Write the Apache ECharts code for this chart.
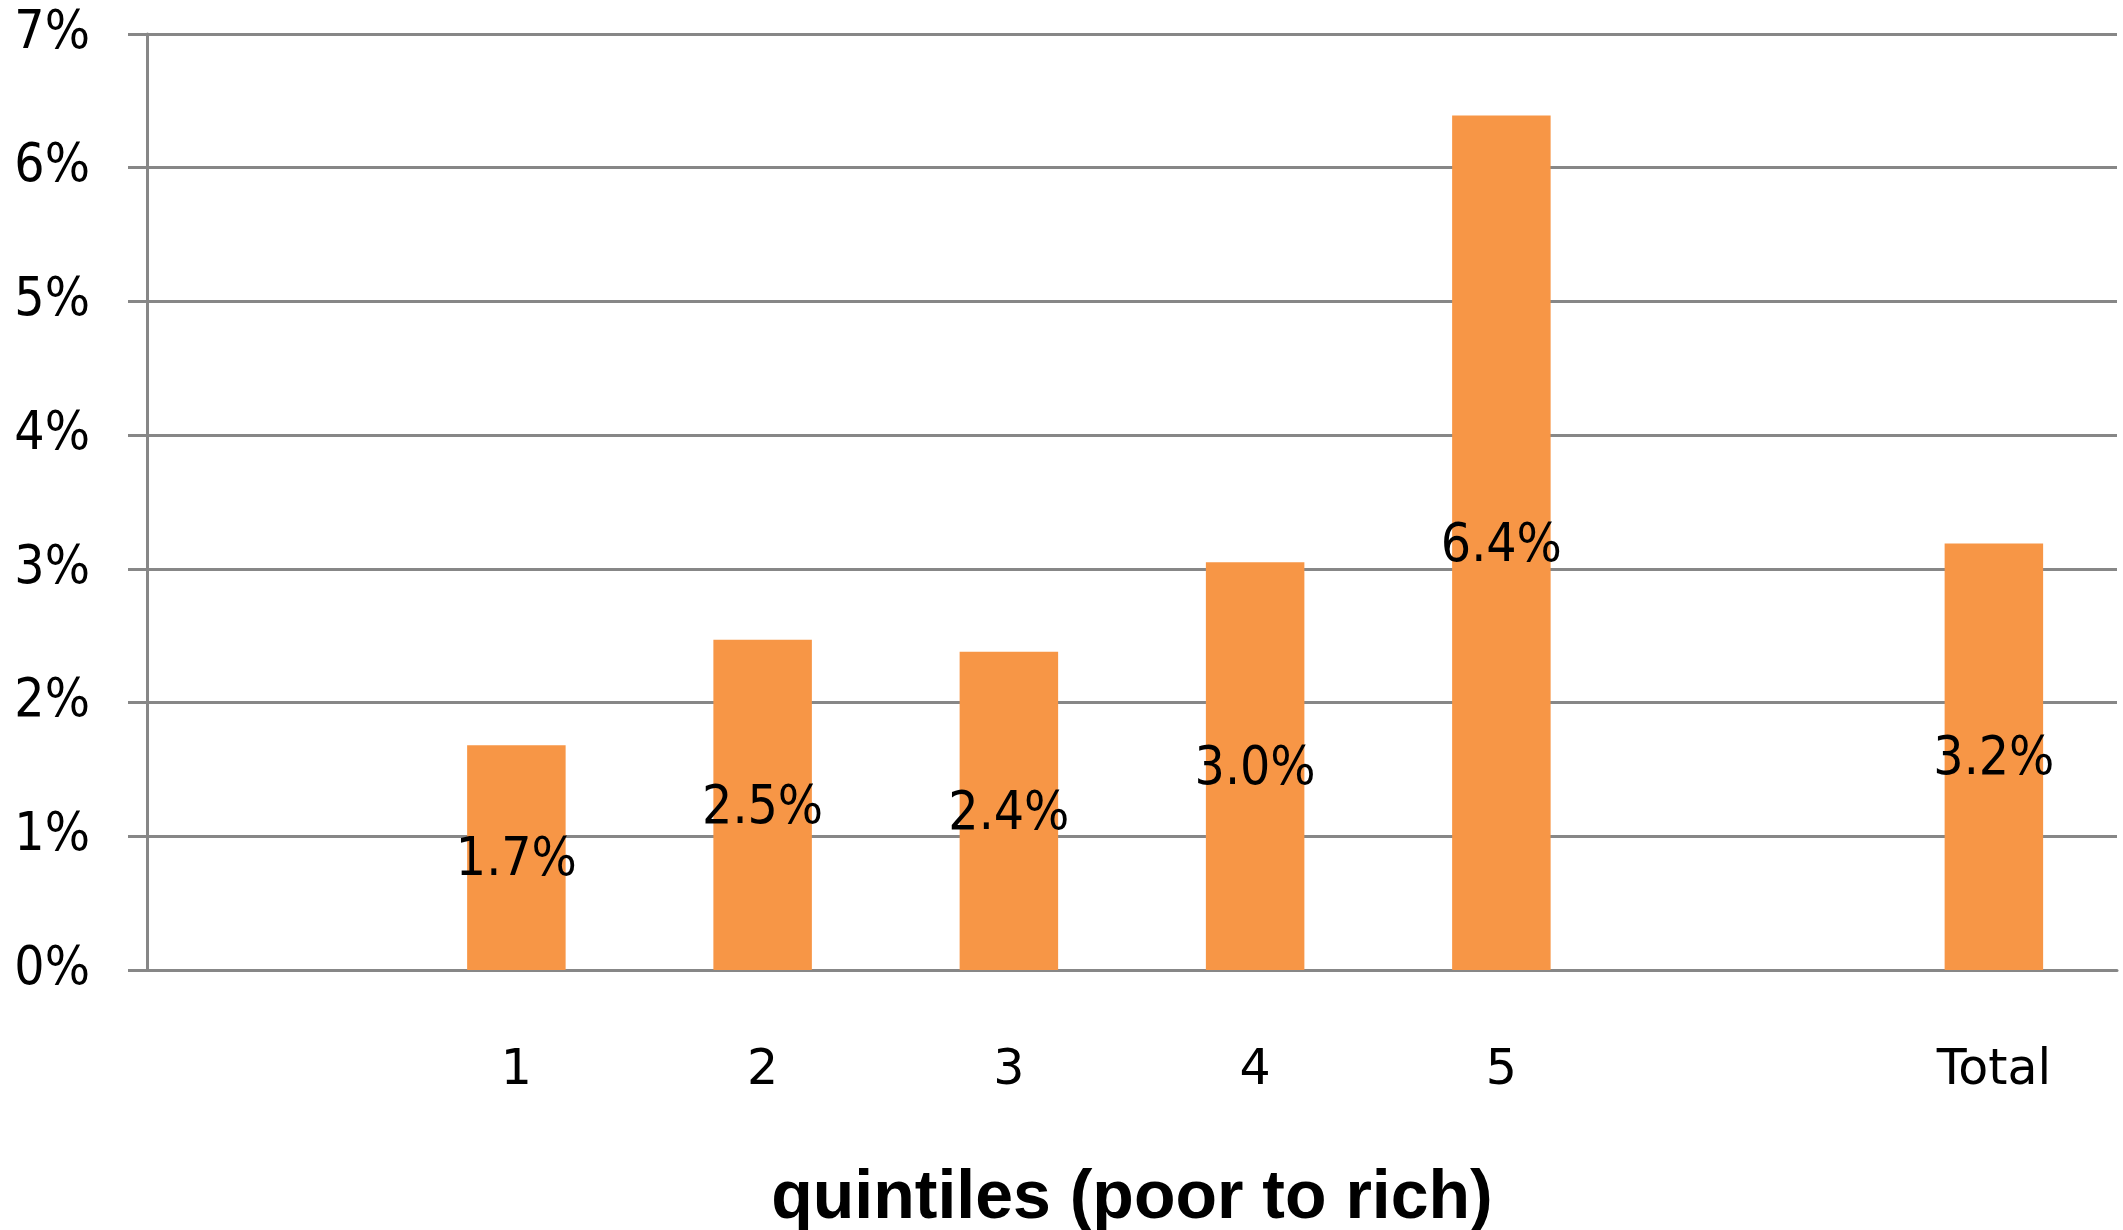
<!DOCTYPE html>
<html>
<head>
<meta charset="utf-8">
<title>Quintiles (poor to rich)</title>
<script src="https://cdn.jsdelivr.net/npm/echarts@6/dist/echarts.min.js"></script>
<style>
  html, body { margin: 0; padding: 0; background: #ffffff; }
  #chart { width: 2123px; height: 1230px; }
</style>
</head>
<body>
<div id="chart"></div>
<script>
// Categories: blank slots keep the gaps before quintile 1 and before "Total"
const categories = ['', '1', '2', '3', '4', '5', '', 'Total'];
// Share (%) per quintile, plus the overall total
const shareValues = ['-', 1.68, 2.47, 2.38, 3.05, 6.39, '-', 3.19];
// Y axis range and step (percent)
const yMin = 0;
const yMax = 7;
const yStep = 1;

const gray = '#878787';
const labelFont = '"DejaVu Sans Condensed", "DejaVu Sans", sans-serif';

const chart = echarts.init(document.getElementById('chart'));
chart.setOption({
  animation: false,
  backgroundColor: '#ffffff',
  grid: {
    left: 147, right: 6, top: 34, bottom: 260,
    containLabel: false,
    outerBoundsMode: 'none'
  },
  xAxis: {
    type: 'category',
    data: categories,
    name: 'quintiles (poor to rich)',
    nameLocation: 'middle',
    nameGap: 195,
    nameTextStyle: {
      fontFamily: '"Liberation Sans", Arial, sans-serif',
      fontWeight: 'bold',
      fontSize: 68,
      lineHeight: 68,
      color: '#000000',
      verticalAlign: 'top'
    },
    axisLine: { show: true, lineStyle: { color: gray, width: 3 } },
    axisTick: { show: false },
    axisLabel: {
      fontFamily: '"DejaVu Sans", sans-serif',
      fontSize: 49,
      lineHeight: 49,
      color: '#000000',
      margin: 77,
      interval: 0
    },
    splitLine: { show: false }
  },
  yAxis: {
    type: 'value',
    min: yMin,
    max: yMax,
    interval: yStep,
    axisLine: { show: true, lineStyle: { color: gray, width: 3 } },
    axisTick: { show: true, length: 19, lineStyle: { color: gray, width: 3 } },
    axisLabel: {
      fontFamily: labelFont,
      fontSize: 53,
      color: '#000000',
      margin: 57,
      formatter: '{value}%'
    },
    splitLine: { show: true, lineStyle: { color: gray, width: 3 } }
  },
  series: [{
    type: 'bar',
    data: shareValues,
    barWidth: '40%',
    itemStyle: { color: '#F79646' },
    label: {
      show: true,
      position: 'inside',
      offset: [0, 4],
      fontFamily: labelFont,
      fontSize: 53,
      color: '#000000',
      formatter: p => p.value.toFixed(1) + '%'
    }
  }]
});
</script>
</body>
</html>
